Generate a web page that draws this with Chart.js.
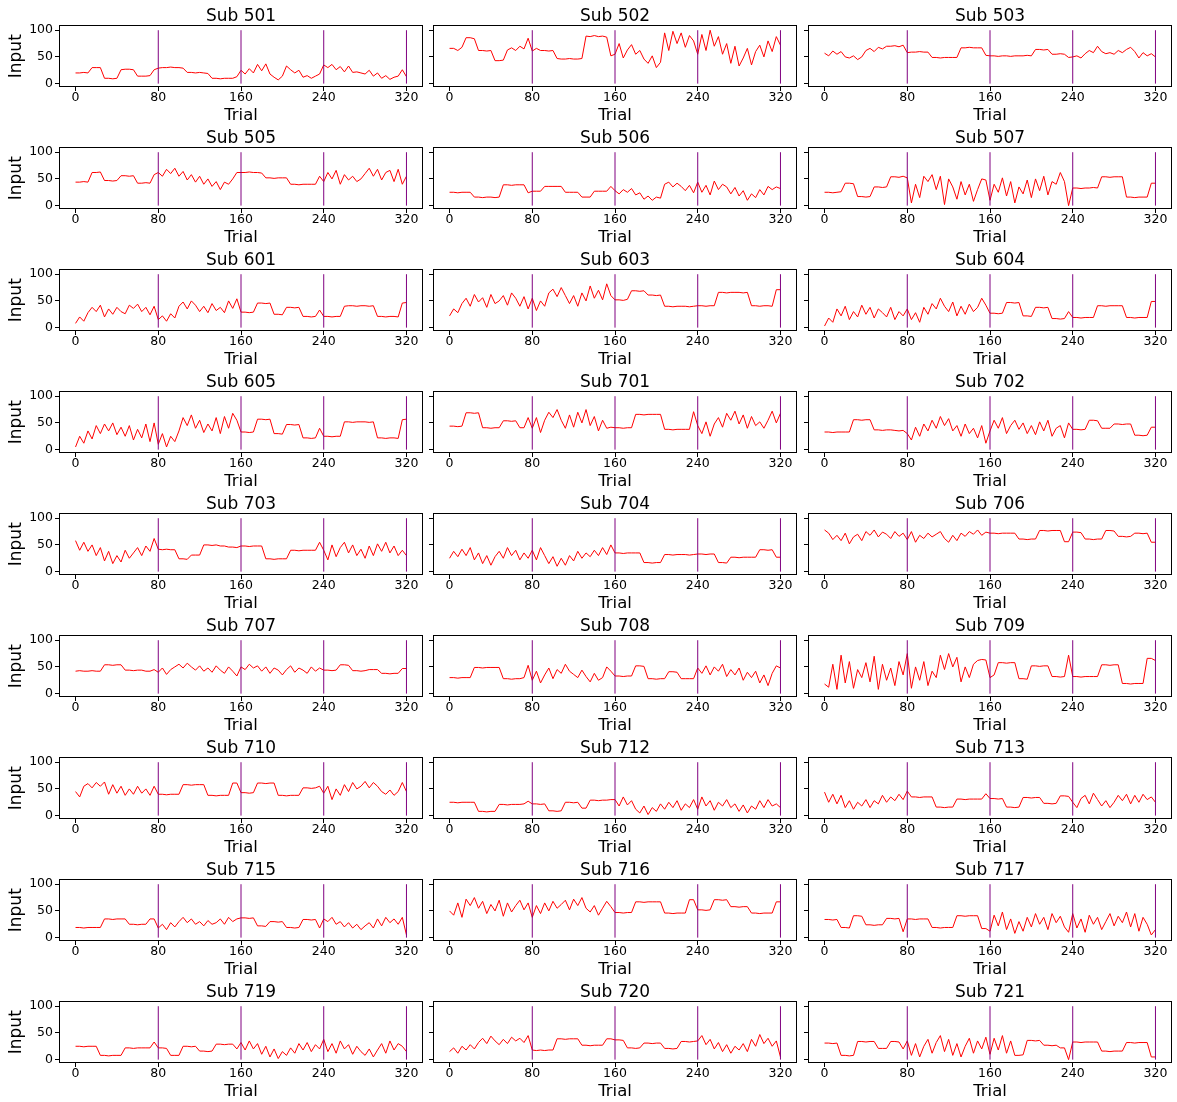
<!DOCTYPE html>
<html>
<head>
<meta charset="utf-8">
<script src="https://cdn.jsdelivr.net/npm/chart.js@4.4.1/dist/chart.umd.min.js"></script>
<style>
  body { margin: 0; background: #fff; }
  #fig { position: relative; width: 1177px; height: 1102px; overflow: hidden; background: #fff; }
  #fig canvas { position: absolute; }
</style>
</head>
<body>
<div id="fig"></div>
<script>
// one value every 4 trials (0..320)
const subjects = ['501','502','503','505','506','507','601','603','604','605','701','702','703','704','706','707','708','709','710','712','713','715','716','717','719','720','721'];

const sub501 = [20,20,21,20,30,30,30,10,10,9,10,26,27,27,26,14,14,14,15,26,
  29,30,30,31,30,30,29,21,21,20,21,20,19,10,10,9,10,10,10,13,
  25,18,28,20,36,24,37,18,12,7,14,33,26,20,25,12,15,10,14,18,
  35,30,36,26,32,22,33,21,22,20,18,25,14,20,10,15,8,12,14,26,13];
const sub502 = [66,66,62,68,86,86,84,62,62,61,62,43,43,44,63,67,62,70,65,85,
  61,66,62,62,61,62,47,46,46,47,46,46,47,89,88,90,88,89,87,52,
  55,75,48,63,73,55,62,46,38,52,30,40,95,62,98,75,95,68,90,80,
  55,92,62,100,70,88,55,75,38,70,33,48,66,35,60,72,50,80,60,88,72];
const sub503 = [57,52,61,55,60,50,48,52,45,50,62,66,60,68,65,70,70,71,69,72,
  58,59,59,60,59,59,49,49,48,49,49,49,49,67,67,68,67,67,67,53,
  52,52,51,52,52,51,52,52,52,53,52,64,64,63,64,55,55,56,55,49,
  50,52,48,56,62,58,70,60,56,58,55,62,58,64,68,60,48,58,52,56,50];
const sub505 = [44,44,45,44,62,62,63,47,47,46,47,56,56,55,56,42,42,43,42,58,
  62,55,68,60,70,55,64,48,58,44,55,40,50,36,45,30,44,40,50,62,
  62,62,63,62,62,61,52,52,51,52,52,52,40,40,39,40,40,40,40,55,
  45,62,50,66,40,58,48,55,45,50,60,70,55,68,48,62,66,45,68,40,55];
const sub506 = [25,25,24,25,25,25,16,16,15,16,16,15,16,39,39,38,39,39,39,24,
  27,27,27,36,36,36,36,36,25,25,25,25,16,16,16,27,27,27,27,36,
  28,22,30,25,32,20,24,12,18,10,16,14,40,44,35,42,36,28,38,24,
  44,25,38,20,46,30,40,35,22,34,18,28,10,22,15,30,20,36,30,35,32];
const sub507 = [25,25,24,25,26,42,42,41,17,17,16,17,35,35,34,35,54,54,53,55,
  52,5,40,15,55,45,58,30,55,2,50,35,12,45,20,40,8,30,50,48,
  10,40,25,52,18,45,5,35,22,48,15,50,28,55,20,45,40,62,45,0,
  33,33,32,33,33,34,33,54,54,53,54,54,54,16,16,15,16,16,16,42,42];
const sub601 = [8,20,12,28,38,30,42,20,35,25,38,30,26,42,36,44,30,38,24,40,
  15,22,12,26,18,40,48,35,50,42,30,40,28,45,32,38,28,50,36,54,
  29,29,28,29,46,46,45,46,25,25,24,38,38,37,38,21,21,20,21,33,
  21,21,20,21,21,40,41,41,40,41,41,40,41,21,21,20,21,21,20,46,47];
const sub603 = [22,35,28,45,55,40,62,48,56,38,62,45,50,60,42,65,55,40,58,35,
  55,32,50,40,65,72,58,75,60,45,60,40,65,50,78,55,70,52,82,60,
  52,52,51,53,69,69,68,69,61,61,60,61,40,40,39,40,40,40,39,40,
  41,41,40,41,41,66,66,65,66,66,66,65,66,41,41,40,41,41,40,71,71];
const sub604 = [3,18,10,35,22,40,15,30,20,42,25,38,18,35,28,20,38,15,30,22,
  35,15,28,10,38,25,45,35,55,40,30,48,22,40,25,44,30,38,55,42,
  27,27,26,27,47,47,46,47,22,22,21,38,38,37,38,17,17,16,17,30,
  19,19,18,19,19,19,41,41,40,41,41,41,41,19,19,18,19,19,19,49,49];
const sub605 = [5,25,12,35,20,45,30,48,35,50,28,42,25,45,18,38,22,48,15,50,
  10,30,5,25,15,35,60,45,65,40,55,32,48,35,60,30,62,40,68,55,
  33,33,32,33,57,57,56,57,30,30,29,47,47,46,47,22,22,21,22,40,
  25,25,24,25,25,52,52,51,52,52,52,51,52,22,22,21,22,22,21,56,57];
const sub701 = [44,44,43,44,69,69,68,69,41,41,40,41,41,54,54,53,54,41,41,60,
  40,60,32,55,70,60,75,55,40,65,42,70,50,75,45,62,35,55,40,42,
  41,41,40,41,41,66,66,65,66,66,66,66,38,38,37,38,38,38,38,71,
  45,30,52,25,48,60,42,68,55,72,48,65,40,62,45,52,40,55,72,50,68];
const sub702 = [33,33,32,33,33,33,33,56,56,55,56,56,37,37,36,37,37,36,35,36,
  30,18,42,25,48,35,55,40,62,45,58,35,45,25,48,30,40,22,45,12,
  35,55,40,60,30,45,55,38,50,30,45,28,52,35,55,25,40,45,22,50,
  38,38,37,38,55,55,54,40,40,40,48,48,47,48,48,27,27,26,27,42,42];
const sub703 = [58,40,55,38,50,30,45,20,38,15,30,18,40,25,35,45,30,48,38,62,
  42,41,42,41,41,24,24,23,31,31,31,50,50,49,50,48,48,46,46,45,
  48,48,47,48,48,48,24,24,23,24,24,24,40,40,39,40,40,40,40,55,
  40,22,50,28,45,55,35,50,30,42,25,48,30,52,38,55,35,48,30,40,30];
const sub704 = [25,38,28,42,30,45,22,35,15,30,12,28,38,25,45,30,40,22,35,25,
  40,22,45,30,15,28,10,25,12,30,20,38,25,35,28,40,30,45,32,50,
  35,35,34,35,35,35,35,17,17,16,17,17,32,32,31,32,32,32,31,32,
  33,33,32,33,33,17,17,16,27,27,26,27,27,27,27,41,41,40,41,27,27];
const sub706 = [78,72,60,68,58,72,52,65,70,58,75,68,78,65,74,70,62,75,66,72,
  60,75,55,68,62,72,65,70,75,62,55,68,58,72,66,75,70,78,68,74,
  72,72,71,72,72,72,72,61,61,60,61,61,77,77,76,77,77,77,56,56,
  74,74,73,61,61,60,61,61,77,77,76,66,66,65,66,72,72,71,72,55,55];
const sub707 = [42,43,42,42,43,42,42,54,54,53,54,54,44,44,43,44,44,42,42,45,
  40,48,36,45,50,55,48,57,50,44,52,42,48,40,52,44,38,50,42,33,
  50,45,55,48,52,42,50,38,48,44,35,45,52,40,48,44,38,50,42,48,
  44,44,43,44,54,54,53,43,43,42,43,45,45,45,38,38,37,38,38,47,47];
const sub708 = [30,30,29,30,30,30,49,49,48,49,49,49,49,28,28,27,28,28,30,53,
  25,42,20,35,48,28,45,38,55,42,36,30,44,32,22,38,25,30,50,42,
  33,33,32,33,33,52,52,51,28,28,27,28,28,41,41,40,28,28,28,28,
  48,38,52,35,50,42,55,32,45,35,48,25,40,30,42,20,35,15,38,52,48];
const sub709 = [18,12,55,8,72,20,60,10,45,30,58,22,70,8,55,25,48,15,60,35,
  75,10,50,25,60,15,42,30,72,45,75,50,68,22,50,30,55,62,64,63,
  30,35,58,58,57,58,58,28,28,27,52,52,51,52,52,32,32,31,32,72,
  32,32,31,32,32,32,32,54,54,53,54,54,19,19,18,19,19,19,66,66,62];
const sub710 = [45,35,55,60,52,62,55,63,40,58,42,55,38,50,40,55,42,50,38,55,
  40,40,39,40,40,40,58,58,57,58,58,58,38,38,37,38,38,38,61,61,
  43,43,42,43,61,61,60,61,61,38,38,37,38,38,38,52,52,51,52,55,
  42,55,30,50,38,58,45,62,50,55,64,52,62,55,45,40,48,38,45,62,45];
const sub712 = [25,25,24,25,25,25,25,8,8,7,8,8,21,21,20,21,21,21,22,27,
  22,22,21,22,9,9,8,9,25,25,24,25,14,14,29,29,28,29,29,30,
  30,18,35,20,28,12,5,18,2,15,8,22,12,25,15,28,10,22,15,30,
  12,35,18,28,10,25,18,30,15,22,8,20,5,18,12,28,15,30,18,22,15];
const sub713 = [44,25,40,22,38,15,28,12,25,18,30,15,28,22,38,25,35,28,40,30,
  46,35,35,34,35,35,35,16,16,15,16,16,31,31,30,31,31,31,31,41,
  32,32,31,32,16,16,15,16,34,34,33,34,34,23,23,22,23,37,37,36,
  25,15,32,38,22,42,30,18,28,15,25,38,28,40,22,38,25,40,30,35,25];
const sub715 = [19,19,18,19,19,19,19,35,35,34,35,35,35,25,25,24,25,25,35,35,
  18,25,15,28,20,30,38,28,35,25,30,22,32,25,28,35,25,38,30,35,
  37,37,36,37,22,22,21,30,30,29,30,19,19,18,19,34,34,33,34,18,
  35,30,38,25,30,20,28,18,25,15,22,28,18,35,22,38,28,35,25,38,5];
const sub716 = [50,42,65,38,72,60,75,55,68,45,62,50,70,40,65,48,60,70,52,65,
  38,60,45,65,50,68,55,62,70,52,72,60,75,55,48,60,42,55,68,58,
  47,47,46,47,47,67,67,66,67,67,67,67,46,46,45,46,46,46,71,71,
  52,52,51,52,71,71,70,71,58,58,57,58,58,46,46,45,46,46,46,67,67];
const sub717 = [34,34,33,34,19,19,18,41,41,40,24,24,23,24,24,36,36,35,36,11,
  35,35,34,35,35,35,19,19,18,19,19,19,41,41,40,41,41,41,17,17,
  12,42,22,48,15,35,8,30,12,38,20,45,25,38,15,45,28,40,20,10,
  45,18,35,10,42,25,38,15,30,45,22,40,28,48,20,45,12,38,25,5,15];
const sub719 = [25,25,24,25,25,25,8,8,7,8,8,8,22,22,21,22,22,22,22,33,
  22,22,21,8,8,8,25,25,24,25,16,16,15,16,29,29,28,29,29,20,
  32,18,35,20,30,10,25,5,20,2,15,8,22,12,30,18,32,15,28,20,
  38,15,30,12,35,20,28,10,25,15,8,20,5,18,30,12,35,18,30,25,15];
const sub720 = [15,22,12,25,18,28,20,32,40,30,44,35,28,38,30,42,35,40,32,45,
  18,17,18,17,18,18,39,39,38,39,39,39,27,27,26,27,27,27,39,39,
  37,37,36,22,22,21,22,31,31,30,31,31,21,21,20,21,34,34,33,34,
  35,45,28,38,20,32,15,28,12,25,18,30,15,38,25,47,30,40,25,35,5];
const sub721 = [31,31,30,31,8,8,7,8,34,34,33,34,34,21,21,21,34,34,33,20,
  35,8,30,5,25,38,12,32,45,15,38,8,30,5,25,40,12,35,20,42,
  10,40,18,45,12,35,8,8,9,36,36,35,36,27,27,26,27,22,22,0,
  33,33,32,33,33,33,33,16,16,15,16,16,16,32,32,31,32,32,32,5,5];

const trialStep = 4;
const xTicks = [0, 80, 160, 240, 320];
const yTicks = [0, 50, 100];
const blockEdges = [80, 160, 240, 320];
const edgeSpan = [0, 100];

const seriesBySubject = {
  '501': sub501, '502': sub502, '503': sub503, '505': sub505, '506': sub506, '507': sub507,
  '601': sub601, '603': sub603, '604': sub604, '605': sub605, '701': sub701, '702': sub702,
  '703': sub703, '704': sub704, '706': sub706, '707': sub707, '708': sub708, '709': sub709,
  '710': sub710, '712': sub712, '713': sub713, '715': sub715, '716': sub716, '717': sub717,
  '719': sub719, '720': sub720, '721': sub721
};

const FONT = "'DejaVu Sans', sans-serif";
Chart.defaults.color = '#000';
Chart.defaults.font.family = FONT;

const colLeft = [59, 433, 808];
const axW = 364;
const rowH = 122;
const fig = document.getElementById('fig');

// black box round each axes (matplotlib spines)
const frame = {
  id: 'frame',
  afterDatasetsDraw(chart) {
    const { ctx, chartArea: a } = chart;
    ctx.save();
    ctx.strokeStyle = '#000';
    ctx.lineWidth = 1;
    ctx.strokeRect(Math.round(a.left) + 0.5, Math.round(a.top) + 0.5,
      Math.round(a.right - a.left) - 1, Math.round(a.bottom - a.top) - 1);
    ctx.restore();
  }
};

subjects.forEach((sub, idx) => {
  const row = Math.floor(idx / 3), col = idx % 3;
  const yW = col === 0 ? 59 : 8;
  const canvas = document.createElement('canvas');
  canvas.width = yW + axW;
  canvas.height = rowH;
  canvas.style.left = (colLeft[col] - yW) + 'px';
  canvas.style.top = (row * rowH) + 'px';
  fig.appendChild(canvas);

  const values = seriesBySubject[sub];
  const pts = values.map((v, i) => ({ x: i * trialStep, y: v }));
  const edgeSets = blockEdges.map(e => ({
    data: edgeSpan.map(y => ({ x: e, y: y })),
    borderColor: '#800080', borderWidth: 1, pointRadius: 0, order: 0
  }));

  new Chart(canvas, {
    type: 'line',
    data: {
      datasets: [{ data: pts, borderColor: '#ff0000', borderWidth: 1, pointRadius: 0, tension: 0, order: 1 }, ...edgeSets]
    },
    options: {
      responsive: false,
      animation: false,
      devicePixelRatio: 1,
      layout: { padding: 0 },
      plugins: {
        legend: { display: false },
        tooltip: { enabled: false },
        title: {
          display: true, text: 'Sub ' + sub, fullSize: false, color: '#000',
          font: { family: FONT, size: 17, weight: 'normal', lineHeight: 1 },
          padding: { top: 8, bottom: 0.4 }
        }
      },
      scales: {
        x: {
          type: 'linear', min: -16, max: 336,
          afterBuildTicks: s => { s.ticks = xTicks.map(v => ({ value: v })); },
          afterFit: s => { s.height = 35; },
          grid: { drawOnChartArea: false, drawTicks: true, tickLength: 4, color: '#000' },
          border: { display: false },
          ticks: { color: '#000', font: { family: FONT, size: 12.5 }, padding: -1, maxRotation: 0, autoSkip: false },
          title: { display: true, text: 'Trial', color: '#000', font: { family: FONT, size: 16.5, lineHeight: 1 }, padding: { top: 0, bottom: -2 } }
        },
        y: {
          type: 'linear', min: -6.3, max: 109,
          afterBuildTicks: s => { s.ticks = yTicks.map(v => ({ value: v })); },
          afterFit: s => { s.width = yW; },
          grid: { drawOnChartArea: false, drawTicks: true, tickLength: 4, color: '#000' },
          border: { display: false },
          ticks: { display: col === 0, color: '#000', font: { family: FONT, size: 12.5 }, padding: 2 },
          title: { display: col === 0, text: 'Input', color: '#000', font: { family: FONT, size: 17, lineHeight: 1.2 }, padding: { top: 6, bottom: 0 } }
        }
      }
    },
    plugins: [frame]
  });
});
</script>
</body>
</html>
